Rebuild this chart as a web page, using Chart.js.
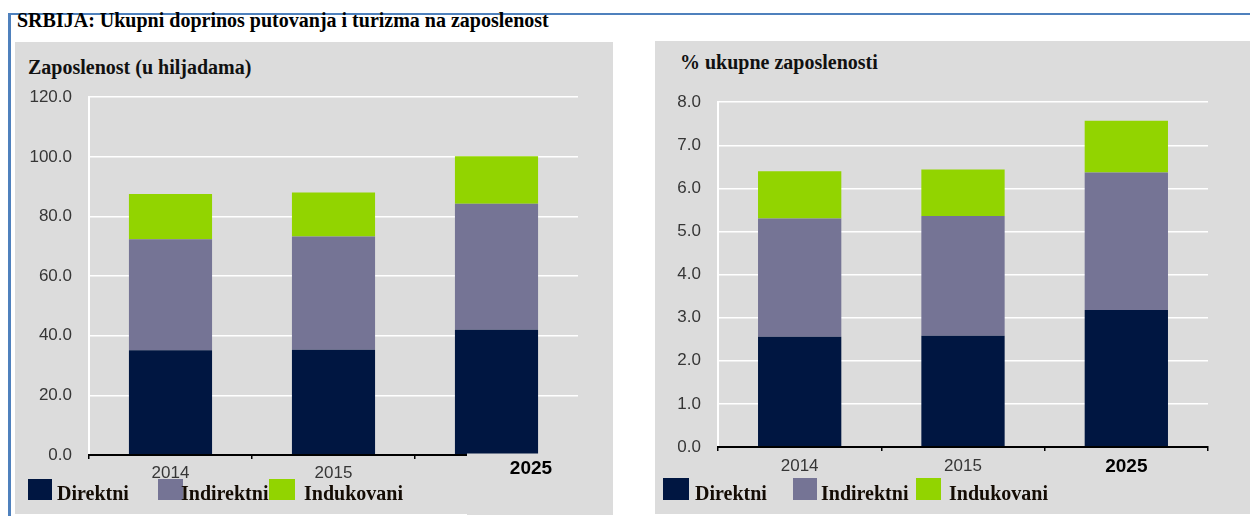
<!DOCTYPE html>
<html>
<head>
<meta charset="utf-8">
<script src="https://cdn.jsdelivr.net/npm/chart.js@4.4.0/dist/chart.umd.min.js"></script>
<style>
  body { margin: 0; width: 1250px; height: 516px; background: #fff; position: relative; overflow: hidden; font-family: "Liberation Serif", "Times New Roman", serif; }
  .frameTop { position: absolute; left: 8px; top: 13px; width: 1242px; height: 2px; background: #4f81bd; }
  .frameLeft { position: absolute; left: 8px; top: 13px; width: 3px; height: 503px; background: #4f81bd; }
  .title, .sub, .legText { position: absolute; font-weight: bold; font-size: 20px; line-height: 22px; white-space: nowrap; }
  .title { left: 17px; top: 9px; color: #000; }
  .sub { color: #111; }
  .panel { position: absolute; background: #dcdcdc; }
  .swatch { position: absolute; }
  .legText { color: #140c04; }
  canvas { position: absolute; }
</style>
</head>
<body>
<div class="frameTop"></div>
<div class="frameLeft"></div>
<div class="title">SRBIJA: Ukupni doprinos putovanja i turizma na zaposlenost</div>

<div class="panel" style="left:15px;top:42px;width:598px;height:472px"></div>
<div class="panel" style="left:655px;top:41px;width:595px;height:473px"></div>

<div class="sub" style="left:28px;top:56px">Zaposlenost (u hiljadama)</div>
<div class="sub" style="left:680px;top:51px">% ukupne zaposlenosti</div>

<canvas id="leftChart" width="598" height="445" style="left:15px;top:70px;width:598px;height:445px"></canvas>
<canvas id="rightChart" width="595" height="440" style="left:655px;top:75px;width:595px;height:440px"></canvas>

<script>
// data
const years = ['2014', '2015', '2025'];
const seriesNames = ['Direktni', 'Indirektni', 'Indukovani'];
const seriesColors = ['#001641', '#757495', '#92d400'];

// employment, thousands
const direktniK = [35.1, 35.3, 42.0];
const indirektniK = [37.3, 38.0, 42.3];
const indukovaniK = [15.1, 14.7, 15.9];

// share of total employment, %
const direktniPct = [2.56, 2.58, 3.18];
const indirektniPct = [2.74, 2.78, 3.19];
const indukovaniPct = [1.10, 1.08, 1.20];

const PANEL = '#dcdcdc';

// draws the year labels under the bars (2025 is bold, and shifted on the left chart)
const xLabels = {
  id: 'xLabels',
  afterDraw(chart, args, opts) {
    const ctx = chart.ctx;
    const xs = chart.scales.x;
    const bottom = chart.chartArea.bottom;
    ctx.save();
    if (opts.coverFrom) {
      ctx.fillStyle = PANEL;
      ctx.fillRect(opts.coverFrom, bottom - 1.5, chart.width - opts.coverFrom, chart.height);
    }
    ctx.textAlign = 'center';
    ctx.textBaseline = 'middle';
    chart.data.labels.forEach((lab, i) => {
      const last = i === chart.data.labels.length - 1;
      const dx = last ? opts.lastDx : 0;
      const dy = last ? opts.lastDy : opts.dy;
      ctx.font = last ? 'bold 19px "Liberation Sans", Arial' : '17px "Liberation Sans", Arial';
      ctx.fillStyle = last ? '#000' : '#363636';
      ctx.fillText(lab, xs.getPixelForTick(i) + dx, bottom + dy);
    });
    ctx.restore();
  }
};

function makeChart(id, sets, yMax, yStep, yWidth, xHeight, pad, labelOpts) {
  const datasets = sets.map((d, i) => ({
    label: seriesNames[i],
    data: d,
    backgroundColor: seriesColors[i],
    borderWidth: 0,
    categoryPercentage: 1,
    barPercentage: 0.51
  }));
  return new Chart(document.getElementById(id), {
    type: 'bar',
    data: { labels: years, datasets: datasets },
    plugins: [xLabels],
    options: {
      responsive: false,
      animation: false,
      devicePixelRatio: 1,
      layout: { padding: pad },
      plugins: {
        legend: { display: false },
        tooltip: { enabled: false },
        xLabels: labelOpts
      },
      scales: {
        x: {
          stacked: true,
          ticks: { display: false },
          border: { color: '#000', width: 2, z: 1 },
          grid: {
            color: c => c.index === years.length ? '#fff' : 'rgba(0,0,0,0)',
            tickColor: '#000',
            lineWidth: 1.5,
            tickWidth: 1.5,
            tickLength: 4
          },
          afterFit: s => { s.height = xHeight; }
        },
        y: {
          stacked: true,
          min: 0,
          max: yMax,
          ticks: {
            stepSize: yStep,
            padding: 17,
            color: '#363636',
            font: { family: '"Liberation Sans", Arial', size: 17 },
            callback: v => Number(v).toFixed(1)
          },
          border: { color: '#fff', width: 2 },
          grid: { color: '#fff', lineWidth: 1.5, drawTicks: false },
          afterFit: s => { s.width = yWidth; }
        }
      }
    }
  });
}

makeChart('leftChart', [direktniK, indirektniK, indukovaniK], 120, 20, 74, 60,
  { left: 0, top: 26, right: 35, bottom: 0 },
  { dy: 18, lastDx: 34.5, lastDy: 14, coverFrom: 452 });

makeChart('rightChart', [direktniPct, indirektniPct, indukovaniPct], 8, 1, 63, 68,
  { left: 0, top: 26, right: 42, bottom: 0 },
  { dy: 19.5, lastDx: 0, lastDy: 19.5 });

// HTML legends under each chart
function addLegend(swatchLeft, swatchW, swatchTop, swatchH, textLeft) {
  seriesNames.forEach((name, i) => {
    const sw = document.createElement('div');
    sw.className = 'swatch';
    sw.style.cssText = `left:${swatchLeft[i]}px;top:${swatchTop}px;width:${swatchW[i]}px;height:${swatchH}px;background:${seriesColors[i]}`;
    document.body.appendChild(sw);
    const t = document.createElement('div');
    t.className = 'legText';
    t.style.cssText = `left:${textLeft[i]}px;top:482px`;
    t.textContent = name;
    document.body.appendChild(t);
  });
}
addLegend([28, 158, 269], [24, 25, 26], 479, 21, [57, 181, 304]);
addLegend([663, 793, 916], [26, 24, 25], 478, 22, [695, 821, 949]);
</script>
</body>
</html>
